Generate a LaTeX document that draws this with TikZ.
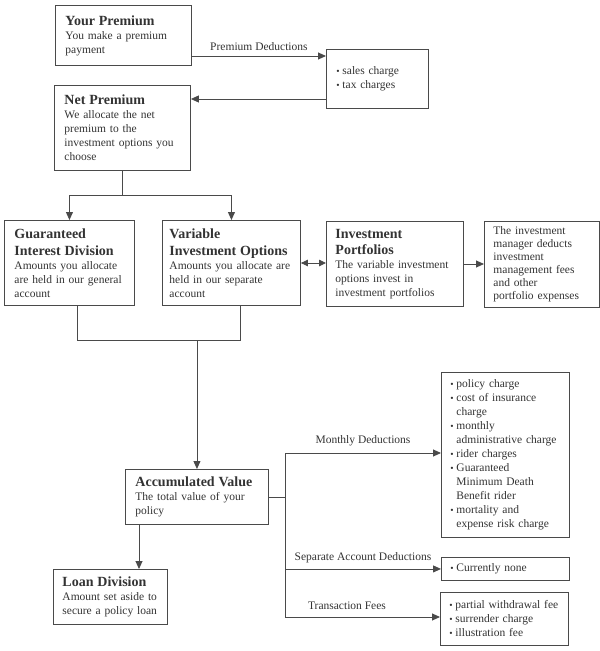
\documentclass[tikz,border=0pt]{standalone}
\usepackage{fontspec}
\setmainfont{Liberation Serif}
\usetikzlibrary{arrows.meta}
\definecolor{ink}{HTML}{333333}
\definecolor{edge}{HTML}{4A4A4A}
\newcommand\hd[1]{{\fontsize{14}{16.5}\selectfont\bfseries #1\par}}
\newcommand\bul{\makebox[6pt][l]{\fontsize{9.5}{9.5}\selectfont\raisebox{0.5pt}{•}}}
\newcommand\ind{\phantom{\bul}}
\begin{document}
\begin{tikzpicture}[x=1pt,y=-1pt,
  every node/.style={text=ink},
  box/.style={draw=edge, line width=0.9pt, anchor=north west, inner xsep=10pt, inner ysep=3pt,
    align=left, font=\fontsize{11.5}{14}\selectfont},
  lbl/.style={font=\fontsize{11.5}{14}\selectfont, inner sep=1pt},
  ln/.style={draw=edge, line width=0.9pt},
  arr/.style={ln, -{Triangle[length=8pt,width=7pt]}},
  darr/.style={ln, {Triangle[length=7pt,width=6.5pt]}-{Triangle[length=7pt,width=6.5pt]}}]
\useasboundingbox (0,0) rectangle (600,651);

% boxes
\node[box, text width=116pt, minimum height=60pt] (prem) at (55,5)
  {\hd{Your Premium}You make a premium\\payment};
\node[box, text width=116pt, minimum height=85pt] (net) at (54,85)
  {\hd{Net Premium}We allocate the net\\premium to the\\investment options you\\choose};
\node[box, text width=82pt, minimum height=59pt, inner xsep=10pt] (ded) at (326,49)
  {\bul sales charge\\\bul tax charges};
\node[box, text width=110pt, minimum height=85pt] (gid) at (4,220)
  {\hd{Guaranteed\\Interest Division}Amounts you allocate\\are held in our general\\account};
\node[box, text width=124pt, minimum height=85pt, inner xsep=7pt] (vio) at (162,220)
  {\hd{Variable\\Investment Options}\mbox{Amounts you allocate are}\\held in our separate\\account};
\node[box, text width=119pt, minimum height=85pt, inner xsep=9pt] (ipf) at (326,221)
  {\hd{Investment\\Portfolios}The variable investment\\options invest in\\investment portfolios};
\node[box, text width=97pt, minimum height=86pt, inner xsep=9pt, font=\fontsize{11.5}{13}\selectfont] (mgr) at (484,221)
  {The investment\\manager deducts\\investment\\management fees\\and other\\portfolio expenses};
\node[box, text width=123pt, minimum height=55pt] (acc) at (125,469)
  {\hd{Accumulated Value}The total value of your\\policy};
\node[box, text width=96pt, minimum height=55pt, inner xsep=9pt] (loan) at (53,569)
  {\hd{Loan Division}Amount set aside to\\secure a policy loan};
\node[box, text width=110pt, minimum height=165pt, inner xsep=9pt] (mon) at (441,372)
  {\bul policy charge\\\bul cost of insurance\\\ind charge\\\bul monthly\\\ind administrative charge\\\bul rider charges\\\bul Guaranteed\\\ind Minimum Death\\\ind Benefit rider\\\bul mortality and\\\ind expense risk charge};
\node[box, text width=110pt, minimum height=23pt, inner xsep=9pt, inner ysep=1pt] (none) at (441,557)
  {\bul Currently none};
\node[box, text width=110pt, minimum height=53pt, inner xsep=9pt] (tf) at (440,592)
  {\bul partial withdrawal fee\\\bul surrender charge\\\bul illustration fee};

% connectors top
\draw[arr] (prem.east |- 0,56) -- node[lbl, above=4pt] (lpd) {Premium Deductions} (ded.west |- 0,56);
\draw[arr] (ded.west |- 0,99) -- (net.east |- 0,99);
\draw[ln] (net.south) -- (net.south |- 0,195) coordinate (s1);
\draw[ln] (s1 -| gid.north) -- (s1 -| vio.north);
\draw[arr] (s1 -| gid.north) -- (gid.north);
\draw[arr] (s1 -| vio.north) -- (vio.north);
\draw[darr] (vio.east |- 0,263) -- (ipf.west |- 0,263);
\draw[arr] (ipf.east |- 0,264) -- (mgr.west |- 0,264);

% merge to accumulated value
\coordinate (m1) at (77,340);
\coordinate (m2) at (240,340);
\draw[ln] (gid.south -| m1) -- (m1) -- (m2) -- (vio.south -| m2);
\draw[arr] (acc.north |- m1) -- (acc.north);
\draw[arr] (acc.south -| 139,0) -- (loan.north -| 139,0);

% deductions branch
\coordinate (bt) at (285,453);
\coordinate (bb) at (285,617);
\draw[ln] (acc.east) -- (acc.east -| bt);
\draw[ln] (bt) -- (bb);
\draw[arr] (bt) -- node[lbl, above=6pt] (lmd) {Monthly Deductions} (bt -| mon.west);
\draw[arr] (bt |- none.west) -- node[lbl, above=5pt] (lsa) {Separate Account Deductions} (none.west);
\draw[arr] (bb) -- node[lbl, above=6pt, pos=0.4] (ltf) {Transaction Fees} (bb -| tf.west);
\end{tikzpicture}
\end{document}
